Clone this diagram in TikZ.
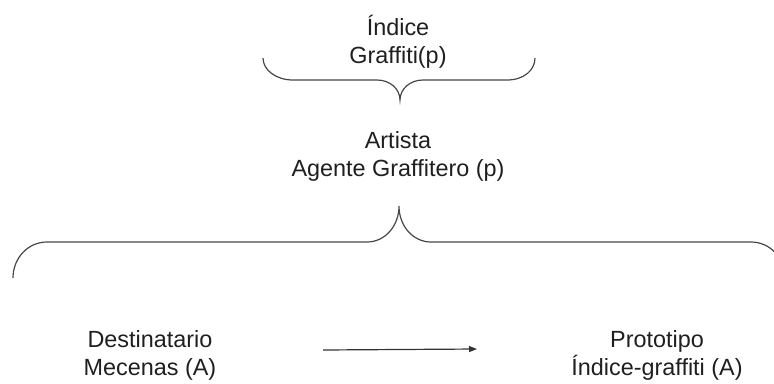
\documentclass[tikz,border=0pt]{standalone}
\usepackage{fontspec}
\setmainfont{Liberation Sans}
\usetikzlibrary{arrows.meta}
\begin{document}
\begin{tikzpicture}[x=1pt,y=-1pt,
  label text/.style={align=center, inner sep=0pt, anchor=base,
    font=\fontsize{23.4}{28}\selectfont, text=black!88},
  brace line/.style={draw=black!72, line width=1.2pt},
  flow arrow/.style={draw=black!80, line width=1.2pt,
    -{Triangle[length=8pt,width=6pt]}}]
\useasboundingbox (0,0) rectangle (774,383);

% labels (placed by the baseline of their last line)
\node[label text] (indice) at (398,63) {Índice\\Graffiti(p)};
\node[label text] (artista) at (398,176) {Artista\\Agente Graffitero (p)};
\node[label text] (destinatario) at (150,375) {Destinatario\\Mecenas (A)};
\node[label text] (prototipo) at (657,375) {Prototipo\\Índice-graffiti (A)};

% small brace under the index
\coordinate (top tip) at (400,100);
\draw[brace line] (263,58) .. controls (263,70) and (276,80) .. (293,80)
  -- (377,80) .. controls (390,80) and (400,89) .. (top tip)
  .. controls (400,89) and (410,80) .. (423,80)
  -- (507,80) .. controls (524,80) and (535,70) .. (535,58);

% wide brace under the artist
\coordinate (big tip) at (399,206);
\begin{scope}
  \clip (0,0) rectangle (774,383);
  \draw[brace line] (13,278) .. controls (13,258) and (28,242) .. (47,242)
    -- (367,242) .. controls (385,242) and (399,226) .. (big tip)
    .. controls (399,226) and (413,242) .. (431,242)
    -- (751,242) .. controls (770,242) and (785,258) .. (785,278);
\end{scope}

% arrow between the two lower labels
\coordinate (arrow start) at (323,350);
\coordinate (arrow end) at (477,349);
\draw[flow arrow] (arrow start) -- (arrow end);
\end{tikzpicture}
\end{document}
